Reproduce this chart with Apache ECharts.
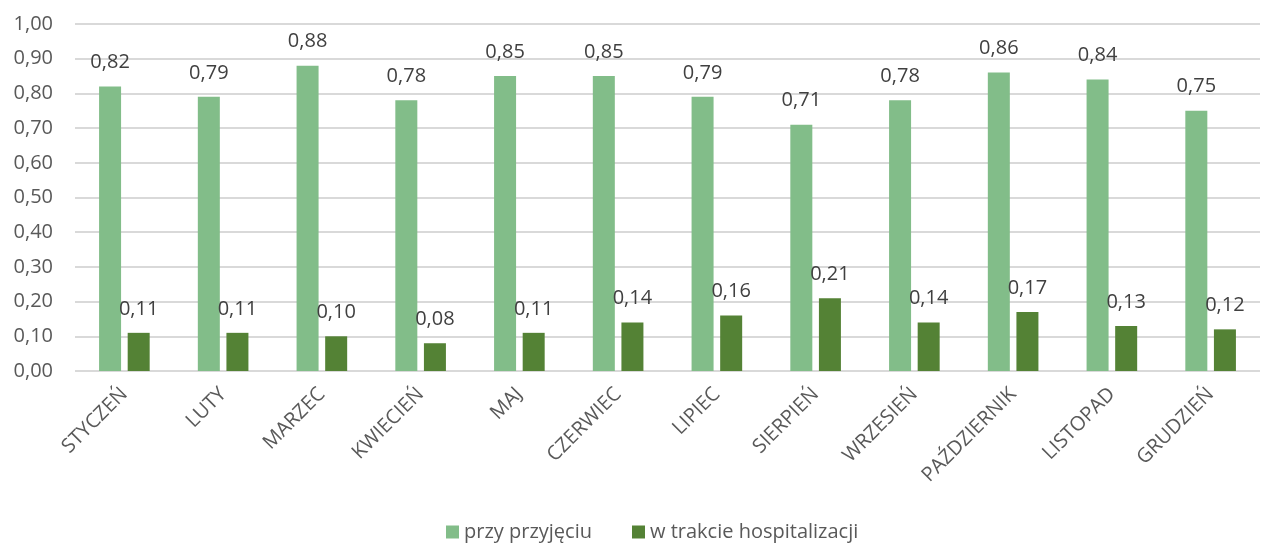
<!DOCTYPE html>
<html>
<head>
<meta charset="utf-8">
<script src="https://cdn.jsdelivr.net/npm/echarts@6/dist/echarts.min.js"></script>
<style>
  html, body { margin: 0; padding: 0; background: #fff; }
  #main { width: 1269px; height: 547px; }
</style>
</head>
<body>
<div id="main"></div>
<script>
const months = ['STYCZEŃ', 'LUTY', 'MARZEC', 'KWIECIEŃ', 'MAJ', 'CZERWIEC', 'LIPIEC', 'SIERPIEŃ', 'WRZESIEŃ', 'PAŹDZIERNIK', 'LISTOPAD', 'GRUDZIEŃ'];
const przyPrzyjeciu = [0.82, 0.79, 0.88, 0.78, 0.85, 0.85, 0.79, 0.71, 0.78, 0.86, 0.84, 0.75];
const wTrakcie = [0.11, 0.11, 0.10, 0.08, 0.11, 0.14, 0.16, 0.21, 0.14, 0.17, 0.13, 0.12];

const fontFam = '"Open Sans", "Noto Sans", sans-serif';
const fmt = v => v.toFixed(2).replace('.', ',');

var myChart = echarts.init(document.getElementById('main'));
var option = {
  animation: false,
  textStyle: { fontFamily: fontFam },
  grid: { left: 75, right: 9, top: 24, bottom: 176 },
  legend: {
    bottom: 0,
    left: 441,
    itemWidth: 13,
    itemHeight: 13,
    itemGap: 40,
    icon: 'rect',
    textStyle: { color: '#595959', fontSize: 20, fontFamily: fontFam }
  },
  xAxis: {
    type: 'category',
    data: months,
    axisLine: { show: false },
    axisTick: { show: false },
    axisLabel: {
      rotate: 45,
      color: '#595959',
      fontSize: 20,
      margin: 20,
      interval: 0,
      fontFamily: fontFam
    }
  },
  yAxis: {
    type: 'value',
    min: 0,
    max: 1,
    interval: 0.1,
    axisLine: { show: false },
    axisTick: { show: false },
    splitLine: { lineStyle: { color: '#d9d9d9', width: 2 } },
    axisLabel: {
      color: '#595959',
      fontSize: 20,
      margin: 22,
      formatter: fmt,
      fontFamily: fontFam
    }
  },
  series: [
    {
      name: 'przy przyjęciu',
      type: 'bar',
      data: przyPrzyjeciu,
      barWidth: 22,
      barGap: '30%',
      itemStyle: { color: '#82bd89' },
      label: {
        show: true,
        position: 'top',
        distance: 14,
        color: '#404040',
        fontSize: 20,
        formatter: p => fmt(p.value)
      }
    },
    {
      name: 'w trakcie hospitalizacji',
      type: 'bar',
      data: wTrakcie,
      barWidth: 22,
      itemStyle: { color: '#548235' },
      label: {
        show: true,
        position: 'top',
        distance: 14,
        color: '#404040',
        fontSize: 20,
        formatter: p => fmt(p.value)
      }
    }
  ]
};
myChart.setOption(option);
</script>
</body>
</html>
